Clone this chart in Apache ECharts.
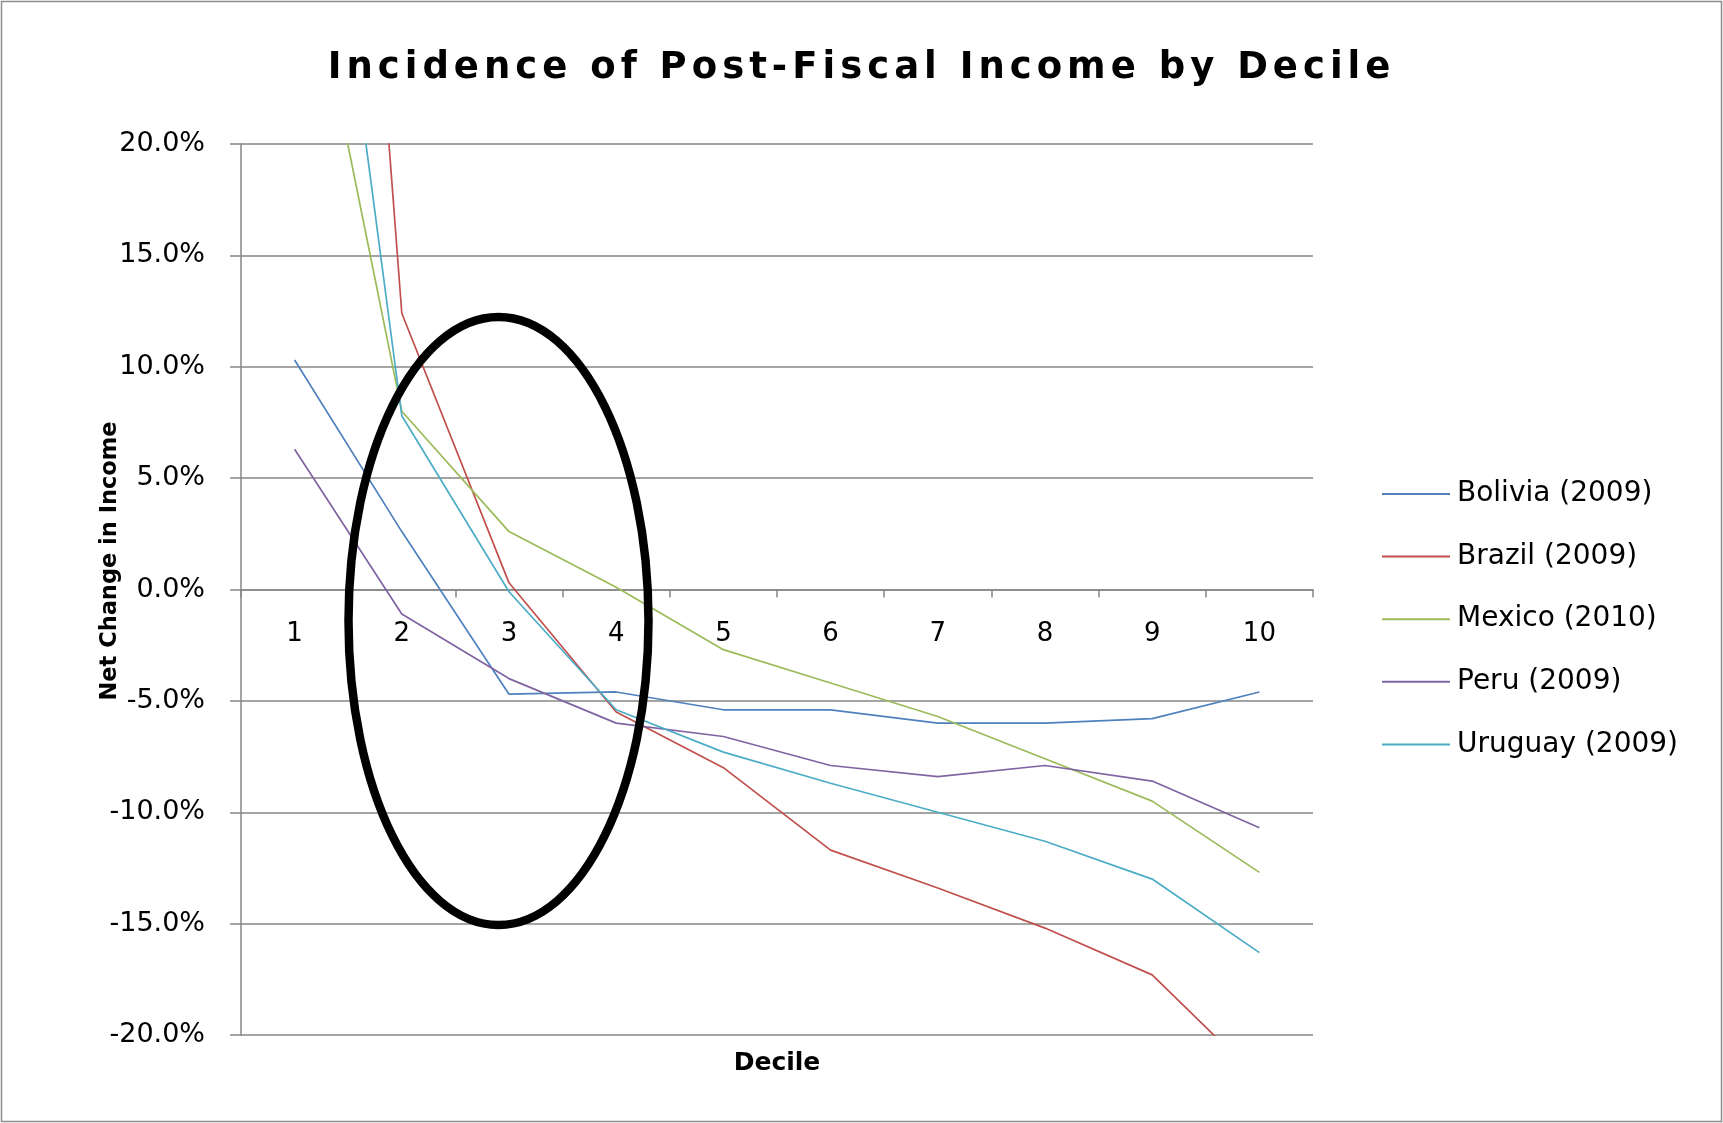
<!DOCTYPE html>
<html>
<head>
<meta charset="utf-8">
<title>Incidence of Post-Fiscal Income by Decile</title>
<script src="https://cdn.jsdelivr.net/npm/echarts@6/dist/echarts.min.js"></script>
<style>
  html, body { margin: 0; padding: 0; background: #ffffff; }
  #chart { width: 1723px; height: 1123px; }
</style>
</head>
<body>
<div id="chart"></div>
<script>
// Net change in income (%) by decile, post-fiscal
const deciles = ['1', '2', '3', '4', '5', '6', '7', '8', '9', '10'];
const bolivia = [10.3, 2.6, -4.7, -4.6, -5.4, -5.4, -6.0, -6.0, -5.8, -4.6];
const brazil  = [76.0, 12.4, 0.3, -5.5, -8.0, -11.7, -13.4, -15.2, -17.3, -22.0];
const mexico  = [31.8, 8.0, 2.6, 0.1, -2.7, -4.2, -5.7, -7.6, -9.5, -12.7];
const peru    = [6.3, -1.1, -4.0, -6.0, -6.6, -7.9, -8.4, -7.9, -8.6, -10.7];
const uruguay = [44.3, 7.8, -0.1, -5.4, -7.3, -8.7, -10.0, -11.3, -13.0, -16.3];

const seriesNames = ['Bolivia (2009)', 'Brazil (2009)', 'Mexico (2010)', 'Peru (2009)', 'Uruguay (2009)'];
const seriesValues = [bolivia, brazil, mexico, peru, uruguay];
const seriesColors = ['#4F81BD', '#C0504D', '#9BBB59', '#8064A2', '#4BACC6'];

// y-axis range and step, in percent
const yMin = -20, yMax = 20, yStep = 5;

// The title is drawn with wide tracking; zrender has no letter-spacing
// option, so set it on the 2D context for that one font size.
(function () {
  const proto = CanvasRenderingContext2D.prototype;
  const baseFill = proto.fillText;
  proto.fillText = function (text, x, y, maxWidth) {
    if ('letterSpacing' in this) {
      this.letterSpacing = this.font.indexOf('37px') >= 0 ? '5px' : '0px';
    }
    return maxWidth === undefined
      ? baseFill.call(this, text, x, y)
      : baseFill.call(this, text, x, y, maxWidth);
  };
})();

const FONT = "'DejaVu Sans', sans-serif";
const GRAY = '#868686';

// plot box
const GRID = { left: 241, right: 410, top: 144, bottom: 88 };
const plotHeight = 1123 - GRID.top - GRID.bottom;
// the category axis sits on the 0% line, with its labels just below it
const zeroFromBottom = plotHeight * (0 - yMin) / (yMax - yMin);

const chart = echarts.init(document.getElementById('chart'), null, { renderer: 'canvas' });

chart.setOption({
  animation: false,
  backgroundColor: '#ffffff',
  title: {
    text: 'Incidence of Post-Fiscal Income by Decile',
    left: 'center',
    top: 45,
    textStyle: { fontFamily: FONT, fontWeight: 'bold', fontSize: 37, color: '#000000' }
  },
  legend: {
    orient: 'vertical',
    left: 1377,
    top: 475,
    itemWidth: 68,
    itemHeight: 2,
    icon: 'rect',
    itemGap: 34.6,
    selectedMode: false,
    textStyle: { fontFamily: FONT, fontSize: 28, color: '#000000', padding: [0, 0, 0, 2] },
    data: seriesNames
  },
  grid: { left: GRID.left, right: GRID.right, top: GRID.top, bottom: GRID.bottom, containLabel: false },
  xAxis: {
    type: 'category',
    data: deciles,
    boundaryGap: true,
    position: 'bottom',
    offset: -zeroFromBottom,
    axisLine: { onZero: false, lineStyle: { color: GRAY, width: 1.5 } },
    axisTick: { show: true, length: 8, lineStyle: { color: GRAY, width: 1.5 } },
    axisLabel: { margin: 32, fontFamily: FONT, fontSize: 26, color: '#000000' },
    splitLine: { show: false }
  },
  yAxis: {
    type: 'value',
    min: yMin,
    max: yMax,
    interval: yStep,
    axisLine: { show: true, lineStyle: { color: GRAY, width: 1.5 } },
    axisTick: { show: true, length: 11, lineStyle: { color: GRAY, width: 1.5 } },
    axisLabel: {
      margin: 36,
      fontFamily: FONT,
      fontSize: 27,
      color: '#000000',
      formatter: function (v) { return v.toFixed(1) + '%'; }
    },
    splitLine: { show: true, lineStyle: { color: GRAY, width: 1.5 } }
  },
  series: seriesNames.map(function (name, i) {
    return {
      name: name,
      type: 'line',
      data: seriesValues[i],
      symbol: 'none',
      clip: true,
      color: seriesColors[i],
      itemStyle: { color: seriesColors[i] },
      lineStyle: { color: seriesColors[i], width: 1.7 },
      emphasis: { disabled: true },
      z: 3
    };
  }),
  graphic: [
    {
      type: 'rect',
      silent: true,
      shape: { x: 1.5, y: 1.5, width: 1720, height: 1120 },
      style: { fill: 'none', stroke: '#8c8c8c', lineWidth: 1.5 }
    },
    {
      type: 'text',
      silent: true,
      x: 110,
      y: 561,
      rotation: Math.PI / 2,
      style: {
        text: 'Net Change in Income',
        font: "bold 22.5px 'DejaVu Sans', sans-serif",
        fill: '#000000',
        align: 'center',
        verticalAlign: 'middle'
      }
    },
    {
      type: 'text',
      silent: true,
      x: 777,
      y: 1063,
      style: {
        text: 'Decile',
        font: "bold 25px 'DejaVu Sans', sans-serif",
        fill: '#000000',
        align: 'center',
        verticalAlign: 'middle'
      }
    },
    {
      type: 'ellipse',
      silent: true,
      z: 10,
      shape: { cx: 498.5, cy: 621, rx: 150, ry: 304 },
      style: { fill: 'none', stroke: '#000000', lineWidth: 8.5 }
    }
  ]
});
</script>
</body>
</html>
